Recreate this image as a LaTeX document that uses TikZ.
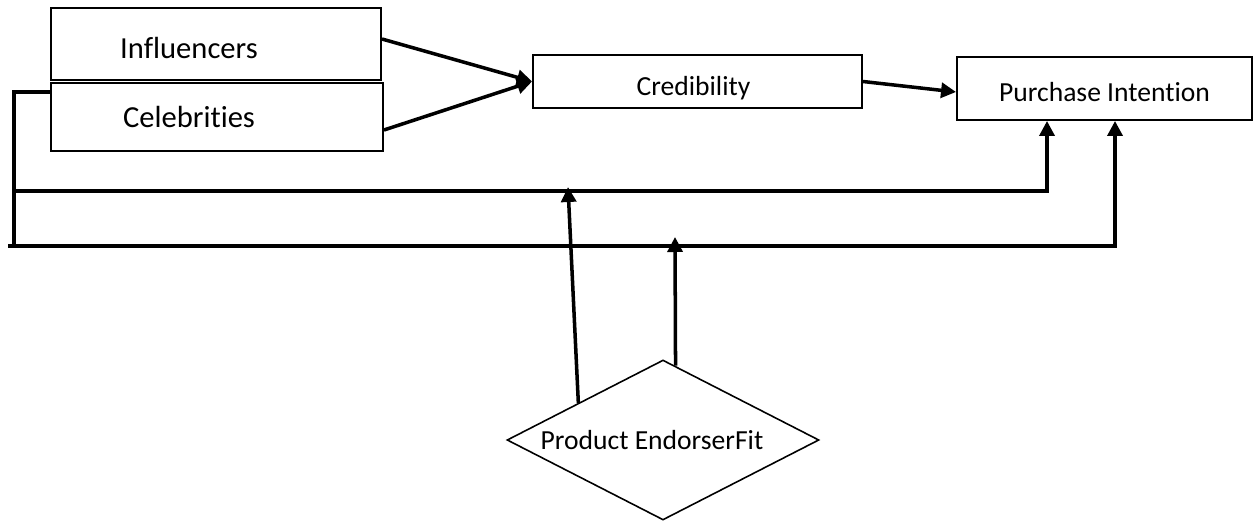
\documentclass[tikz,border=0pt]{standalone}
\usepackage{fontspec}
\setmainfont{Carlito}[Ligatures={NoCommon}]
\usetikzlibrary{arrows.meta,shapes.geometric,calc}

\begin{document}
\begin{tikzpicture}[
		box/.style={draw, line width=1.1pt, inner sep=0pt},
		conn/.style={line width=2pt},
		arr/.style={conn, -{Triangle[length=3mm, width=3mm]}},
		bigtext/.style={font=\fontsize{17.4}{20}\selectfont},
		smalltext/.style={font=\fontsize{15.7}{18}\selectfont}]
		\useasboundingbox (0,0) rectangle (250.6mm,105mm);
		%Endorser boxes
		\node[box, minimum width=66mm, minimum height=14.4mm, label={[bigtext, xshift=-5.4mm, yshift=-0.8mm]center:Influencers}] (infl) at (43.2mm,96.2mm) {};
		\node[box, minimum width=66.4mm, minimum height=13.6mm, label={[bigtext, xshift=-5.6mm]center:Celebrities}] (celeb) at (43.4mm,81.6mm) {};
		%Credibility and Purchase Intention
		\node[box, minimum width=65.8mm, minimum height=10.6mm, label={[smalltext, xshift=-0.8mm, yshift=-1.4mm]center:Credibility}] (cred) at (139.5mm,88.7mm) {};
		\node[box, minimum width=59mm, minimum height=12.6mm, label={[smalltext, yshift=-0.8mm]center:Purchase Intention}] (pi) at (220.9mm,87.3mm) {};
		%Product Endorser Fit
		\node[draw, diamond, aspect=2, line width=0.9pt, inner sep=0pt, minimum width=62.4mm, minimum height=32mm, label={[smalltext, xshift=-2.2mm]center:Product EndorserFit}] (fit) at (132.6mm,17mm) {};

		%helper points on the long lines
		\coordinate (lc) at (2.8mm,55.8mm);
		\coordinate (lt) at (2.8mm,66.8mm);
		\coordinate (lb) at (1.6mm,55.8mm);
		\coordinate (t1) at (113.6mm,67.6mm);
		\coordinate (t2) at (135mm,57.6mm);

		\draw[arr] ([yshift=1mm]infl.east) -- (cred.west);
		\draw[arr] ([yshift=-2.6mm]celeb.east) -- (cred.west);
		\draw[arr] (cred.east) -- ([yshift=-0.7mm]pi.west);

		\draw[conn] ([yshift=-2mm]celeb.north west) -| (lc);
		\draw[arr] (lt) -| ([xshift=-11.5mm]pi.south);
		\draw[arr] (lb) -| ([xshift=2.1mm]pi.south);

		\draw[arr] ($(fit.north)!0.54!(fit.west)$) -- (t1);
		\draw[arr] ($(fit.north)!0.08!(fit.east)$) -- (t2);
	\end{tikzpicture}
\end{document}
